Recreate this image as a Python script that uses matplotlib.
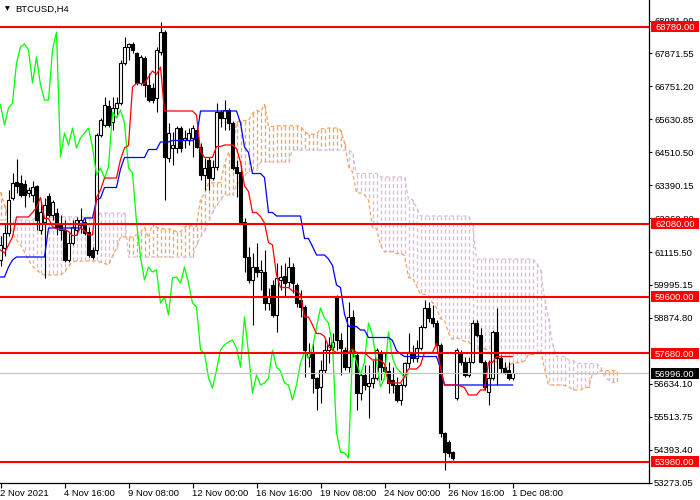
import numpy as np
import matplotlib
matplotlib.use("Agg")
import matplotlib.pyplot as plt
import matplotlib.transforms as mtransforms
from matplotlib.patches import Rectangle

plt.rcParams['font.family'] = ['Liberation Sans', 'DejaVu Sans']

symbol = "BTCUSD,H4"

open_ = [60844, 61252, 61762, 62952, 63496, 63462, 63428, 63122, 63054, 63360,
         61864, 62136, 63020, 62374, 62442, 62068, 61864, 60844, 61422, 61864,
         62034, 62136, 61796, 61184, 61184, 65094, 65434, 66080, 65536, 66012,
         66182, 67542, 68086, 68188, 67882, 66862, 67712, 66794, 66692, 66352,
         67916, 68596, 64312, 64652, 64652, 65332, 64924, 64924, 64992, 65264,
         64686, 63734, 64244, 63632, 64006, 65876, 65672, 65944, 65502, 64006,
         63836, 62136, 60946, 60164, 60606, 60436, 60436, 59382, 59994, 58974,
         60164, 60300, 60096, 60606, 59994, 59484, 59246, 57546, 57682, 56832,
         56526, 57104, 57784, 57886, 59586, 58124, 57784, 57206, 58906, 57614,
         56322, 56934, 56560, 56662, 56832, 57716, 57206, 57070, 56764, 56594,
         56084, 56594, 57342, 57716, 57512, 57852, 58566, 59212, 58872, 58702,
         57954, 54962, 54656, 54316, 56152, 57716, 57376, 56934, 57376, 58702,
         58294, 57376, 56356, 56832, 58396, 57512, 57172, 57104, 56832]

high_ = [61660, 62102, 63224, 63802, 64278, 63734, 63564, 63326, 63530, 63394,
         62816, 62952, 63122, 62884, 62612, 62374, 62204, 61762, 62204, 62306,
         62612, 62272, 61966, 61286, 65162, 65672, 66386, 66284, 66386, 66386,
         67644, 68426, 68222, 68256, 67916, 67814, 67780, 67202, 66862, 68086,
         68936, 68664, 65502, 65196, 65400, 65400, 65264, 65332, 65434, 65366,
         64822, 64312, 64346, 64244, 66182, 65944, 66284, 66012, 65570, 64244,
         64074, 62272, 61286, 61082, 61422, 60844, 61184, 59892, 60164, 60742,
         60674, 60742, 60946, 60742, 60062, 59824, 59314, 58022, 58022, 56866,
         57444, 58124, 58226, 58362, 59654, 58362, 57886, 59416, 59144, 57682,
         57002, 57274, 57274, 57444, 57852, 57784, 57682, 57376, 57206, 56866,
         56662, 57376, 58362, 57954, 58124, 58634, 59484, 59416, 59314, 58804,
         58022, 54996, 54724, 54350, 57852, 57784, 57546, 57546, 58804, 58804,
         58532, 57444, 57444, 58464, 59212, 57614, 57376, 57376, 57342]

low_ = [60640, 60980, 61660, 62884, 63122, 62986, 62646, 62986, 62816, 61864,
        61728, 60232, 62306, 62204, 61694, 61524, 60776, 60776, 61354, 61694,
        61762, 61694, 60946, 60878, 61048, 65026, 65366, 65366, 65264, 65706,
        66114, 67474, 67644, 67882, 66794, 66794, 66386, 66216, 66182, 65876,
        67814, 62884, 64176, 64074, 64482, 64516, 64652, 64754, 64346, 64652,
        63564, 63224, 63224, 63564, 63904, 65366, 65264, 65264, 63904, 62986,
        62068, 60436, 60062, 58634, 60266, 59824, 59144, 59144, 58906, 58396,
        59824, 59586, 59926, 59722, 59246, 58906, 56866, 57206, 56322, 55744,
        55982, 57002, 57342, 57784, 57784, 56934, 57104, 57036, 57546, 55744,
        56084, 56424, 55472, 56492, 56764, 56764, 57002, 56322, 56322, 56016,
        55914, 56526, 57172, 57376, 57376, 57784, 58532, 58736, 58566, 57716,
        54826, 53704, 54146, 54044, 56084, 57274, 56866, 56866, 57342, 58226,
        57342, 56424, 55914, 56764, 56594, 57002, 56968, 56764, 56764]

close_ = [61354, 61762, 62884, 63462, 63360, 63054, 63054, 63224, 63326, 62204,
          62476, 62714, 62374, 62816, 61966, 61864, 60844, 61422, 61966, 62204,
          62204, 61762, 61014, 60946, 65094, 65604, 66114, 65434, 66012, 66182,
          67542, 68086, 68188, 67984, 66862, 67746, 66794, 66284, 66284, 67984,
          68596, 64346, 65162, 64754, 65332, 64652, 64992, 65162, 65332, 64686,
          63734, 63972, 63632, 64006, 65876, 65672, 65944, 65502, 63972, 63802,
          62136, 60946, 60164, 60606, 60436, 60504, 59382, 59586, 58974, 60232,
          60266, 60062, 60606, 60062, 59382, 59246, 57784, 57682, 56832, 56492,
          57104, 57784, 57954, 58056, 58124, 57852, 57206, 58906, 57682, 56322,
          56934, 56594, 56662, 56832, 57784, 57206, 57070, 56662, 56594, 56084,
          56594, 57342, 57716, 57512, 57852, 58566, 59212, 58872, 58702, 57954,
          54962, 54316, 54282, 54112, 57784, 57376, 56934, 57376, 58702, 58294,
          57376, 56526, 56832, 58396, 57512, 57172, 57036, 56832, 56996]

# Ichimoku values before enough history is on the chart
tenkan_early = [61184, 61082, 61354, 61626, 62306, 62306, 62306, 62306]
kijun_early = [60266, 60266, 60606, 60844, 60946, 60946, 60946, 60946, 60946,
               60946, 60946, 60946, 61932, 61932, 61932, 61932, 61932, 61932,
               61932, 61932, 61932, 62272, 62272, 62272, 62884]
senkou_a_early = [63156, 62714, 62204, 61762, 61524, 61354, 61116, 60844, 60640,
                  60504, 60402, 60334, 60334, 60334, 60334, 60334, 60436, 60640,
                  60776, 60810, 60810, 60810, 60810, 60810, 60810, 60776]
senkou_b_early = [62204, 62204, 62204, 62204, 62204, 62204, 62204, 62204, 62204,
                  62306, 62306, 62306, 62306, 62306, 62306, 62306, 62306, 62306,
                  62306, 62306, 62306, 62306, 62306, 62306, 62306,
                  62442, 62442, 62442, 62442, 62442, 62442, 62442,
                  60946, 60946, 60946, 60946, 60946, 60946, 60946, 60946, 60946,
                  60946, 60946, 60946, 60946, 60946, 60946, 60946, 60946,
                  61354, 61626, 61864, 62136, 62476, 62714, 62884,
                  63054, 63054, 63054, 63394, 63564, 63734, 63836, 63904, 63904,
                  64176, 64176, 64176, 64176, 64176, 64176, 64176, 64176,
                  64584, 64584, 64584, 64584]

levels = [68780.00, 62080.00, 59600.00, 57680.00, 53980.00]
bid = 56996.00
price_ticks = [68981.90, 67871.55, 66751.20, 65630.85, 64510.50, 63390.15,
               62269.80, 61115.50, 59995.15, 58874.80, 56634.10,
               55513.75, 54393.40, 53273.05]
time_tick_bars = [0, 16, 32, 48, 64, 80, 96, 112, 128]
time_tick_labels = ["2 Nov 2021", "4 Nov 16:00", "9 Nov 08:00", "12 Nov 00:00",
                    "16 Nov 16:00", "19 Nov 08:00", "24 Nov 00:00",
                    "26 Nov 16:00", "1 Dec 08:00"]

O = np.array(open_, float)
H = np.array(high_, float)
L = np.array(low_, float)
C = np.array(close_, float)
n = len(C)
x = np.arange(n)

# Ichimoku (9, 26, 52)
tenkan = np.empty(n)
kijun = np.empty(n)
for i in range(n):
    tenkan[i] = tenkan_early[i] if i < 8 else (H[i-8:i+1].max() + L[i-8:i+1].min()) / 2
    kijun[i] = kijun_early[i] if i < 25 else (H[i-25:i+1].max() + L[i-25:i+1].min()) / 2
m = n + 26
sa = np.empty(m)
sb = np.empty(m)
for j in range(m):
    sa[j] = senkou_a_early[j] if j < 26 else (tenkan[j-26] + kijun[j-26]) / 2
    if j < 77:
        sb[j] = senkou_b_early[j]
    else:
        k = j - 26
        sb[j] = (H[k-51:k+1].max() + L[k-51:k+1].min()) / 2
xc = np.arange(m)

fig = plt.figure(figsize=(7, 5), dpi=100)
ax = fig.add_axes([0, 17/500, 649/700, 483/500])
ax.set_xlim(-0.125, 162.125)
ax.set_ylim(53262, 69684)

SANDY = '#F4A460'
THISTLE = '#D8BFD8'
dash = (0, (3, 2))
# cloud: one dotted vertical line per bar between the two spans
for j in range(m):
    col = SANDY if sa[j] >= sb[j] else THISTLE
    ax.plot([xc[j], xc[j]], [max(sa[j], sb[j]), min(sa[j], sb[j])],
            color=col, ls=dash, lw=0.95, zorder=1, dash_capstyle='butt')
ax.plot(xc, sa, color=SANDY, ls=dash, lw=0.9, zorder=1.1)
ax.plot(xc, sb, color=THISTLE, ls=dash, lw=0.9, zorder=1.1)

# candles
up = C >= O
ax.vlines(x, L, H, colors='black', linewidth=0.8, zorder=2)
bot = np.minimum(O, C)
hgt = np.maximum(np.abs(C - O), 1.0)
ax.bar(x[up], hgt[up], bottom=bot[up], width=0.62, facecolor='white',
       edgecolor='black', linewidth=0.8, zorder=3)
ax.bar(x[~up], hgt[~up], bottom=bot[~up], width=0.62, facecolor='black',
       edgecolor='black', linewidth=0.8, zorder=3)

# indicator lines
ax.plot(x[:n-26], C[26:], color='#00FF00', lw=0.9, zorder=4)
ax.plot(x, kijun, color='#0000FF', lw=0.9, zorder=4)
ax.plot(x, tenkan, color='#FF0000', lw=0.9, zorder=4)

# levels
ax.axhline(bid, color='#C0C0C0', lw=0.8, zorder=4.5)
for p in levels:
    ax.axhline(p, color='#FF0000', lw=1.5, zorder=5)

# axes styling
for s in ['left', 'top']:
    ax.spines[s].set_visible(False)
for s in ['right', 'bottom']:
    ax.spines[s].set_color('black')
    ax.spines[s].set_linewidth(0.9)
ax.yaxis.tick_right()
ax.set_yticks(price_ticks)
ax.set_yticklabels([f"{v:.2f}" for v in price_ticks])
ax.tick_params(axis='y', direction='out', length=2.4, width=0.8, pad=1.3,
               labelsize=6.8, colors='black')
ax.set_xticks(time_tick_bars)
ax.set_xticklabels(time_tick_labels)
ax.tick_params(axis='x', direction='out', length=3.6, width=0.8, pad=1.0,
               labelsize=6.8, colors='black')
for lbl in ax.get_xticklabels():
    lbl.set_ha('left')

# price label boxes
blend = mtransforms.blended_transform_factory(ax.transAxes, ax.transData)
def price_box(p, fc):
    tr = fig.dpi_scale_trans + mtransforms.ScaledTranslation(1.0, p, blend)
    r = Rectangle((0.02, -0.055), 0.48, 0.11, transform=tr, facecolor=fc,
                  edgecolor='none', clip_on=False, zorder=6)
    ax.add_patch(r)
    ax.annotate(f"{p:.2f}", xy=(1.0, p), xycoords=blend, xytext=(6, 0),
                textcoords='offset pixels', ha='left', va='center_baseline',
                color='white', fontsize=6.8, zorder=7, annotation_clip=False)

for p in levels:
    price_box(p, '#FF0000')
price_box(bid, 'black')

# title
fig.text(5/700, 1 - 9/500, "▼", fontsize=4.5, family='DejaVu Sans',
         va='center', ha='left', color='black')
fig.text(15/700, 1 - 9/500, symbol, fontsize=6.8, va='center', ha='left',
         color='black')

fig.savefig("out.png", dpi=100, facecolor='white')
